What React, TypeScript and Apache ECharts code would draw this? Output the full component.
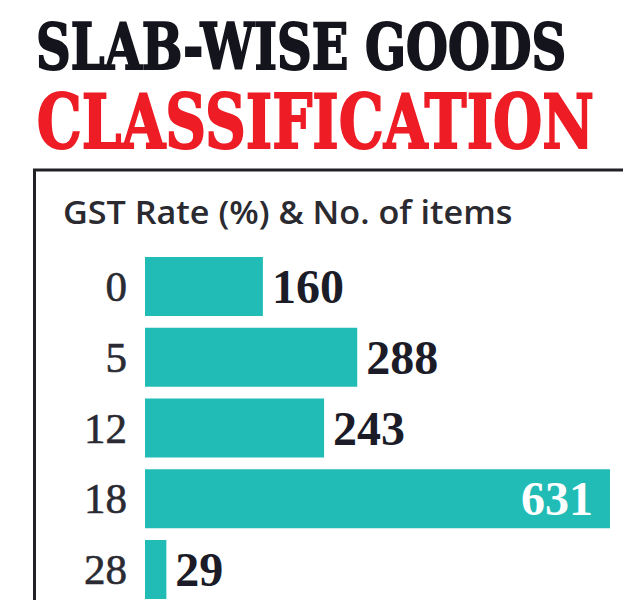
import React, { useEffect, useRef } from "react";
import * as echarts from "echarts";

const titleLine1 = "SLAB-WISE GOODS";
const titleLine2 = "CLASSIFICATION";
const subtitle = "GST Rate (%) & No. of items";
const rates = ["0", "5", "12", "18", "28"];
const items = [160, 288, 243, 631, 29];

const TEAL = "#21bcb6";
const INK = "#1c1c28";

function fitText(text: string, font: string, left: number, width: number) {
  const c = document.createElement("canvas");
  const ctx = c.getContext("2d")!;
  ctx.font = font;
  const m = ctx.measureText(text);
  const abl = m.actualBoundingBoxLeft || 0;
  const ink = (m.actualBoundingBoxRight || m.width) + abl;
  const s = width / ink;
  return { x: left + abl * s, scaleX: s };
}

export default function App() {
  const ref = useRef<HTMLDivElement>(null);
  useEffect(() => {
    if (!ref.current) return;
    const chart = echarts.init(ref.current, null, { renderer: "svg" });
    const f1 = 'bold 64px "DejaVu Serif"';
    const f2 = 'bold 75px "DejaVu Serif"';
    const f3 = '600 32px "Open Sans"';
    const t1 = fitText(titleLine1, f1, 39, 525);
    const t2 = fitText(titleLine2, f2, 39, 553);
    const t3 = fitText(subtitle, f3, 64, 448);
    chart.setOption({
      animation: false,
      backgroundColor: "#ffffff",
      grid: { left: 145, right: 25, top: 251, height: 354, containLabel: false },
      xAxis: {
        type: "value",
        min: 0,
        max: 631,
        show: false,
      },
      yAxis: {
        type: "category",
        data: rates,
        inverse: true,
        axisLine: { show: false },
        axisTick: { show: false },
        splitLine: { show: false },
        axisLabel: {
          margin: 18,
          fontFamily: '"Liberation Serif", serif',
          fontSize: 43,
          color: "#2a2a32",
          textBorderColor: "#2a2a32",
          textBorderWidth: 0.6,
        },
      },
      series: [
        {
          type: "bar",
          barWidth: 59,
          data: items.map((v, i) =>
            i === 3
              ? {
                  value: v,
                  label: { position: "insideRight", distance: 17, color: "#ffffff" },
                }
              : v
          ),
          itemStyle: { color: TEAL },
          label: {
            show: true,
            position: "right",
            distance: 9,
            fontFamily: '"Liberation Serif", serif',
            fontWeight: "bold",
            fontSize: 48,
            color: INK,
          },
        },
      ],
      graphic: [
        {
          type: "text",
          x: t1.x,
          y: 46.5,
          scaleX: t1.scaleX,
          style: {
            text: titleLine1,
            font: f1,
            fill: "#14141c",
            stroke: "#14141c",
            lineWidth: 2,
            verticalAlign: "middle",
            align: "left",
          },
        },
        {
          type: "text",
          x: t2.x,
          y: 122.5,
          scaleX: t2.scaleX,
          style: {
            text: titleLine2,
            font: f2,
            fill: "#ee1c25",
            stroke: "#ee1c25",
            lineWidth: 2,
            verticalAlign: "middle",
            align: "left",
          },
        },
        {
          type: "text",
          x: t3.x,
          y: 211.5,
          scaleX: t3.scaleX,
          style: { text: subtitle, font: f3, fill: "#2a2a30", verticalAlign: "middle", align: "left" },
        },
        {
          type: "line",
          shape: { x1: 33, y1: 170, x2: 623, y2: 170 },
          style: { stroke: "#222226", lineWidth: 3 },
        },
        {
          type: "line",
          shape: { x1: 34.5, y1: 170, x2: 34.5, y2: 620 },
          style: { stroke: "#222226", lineWidth: 3 },
        },
      ],
    });
    return () => chart.dispose();
  }, []);
  return (
    <div
      ref={ref}
      style={{ position: "fixed", left: 0, top: 0, width: 635, height: 620, background: "#fff" }}
    />
  );
}
